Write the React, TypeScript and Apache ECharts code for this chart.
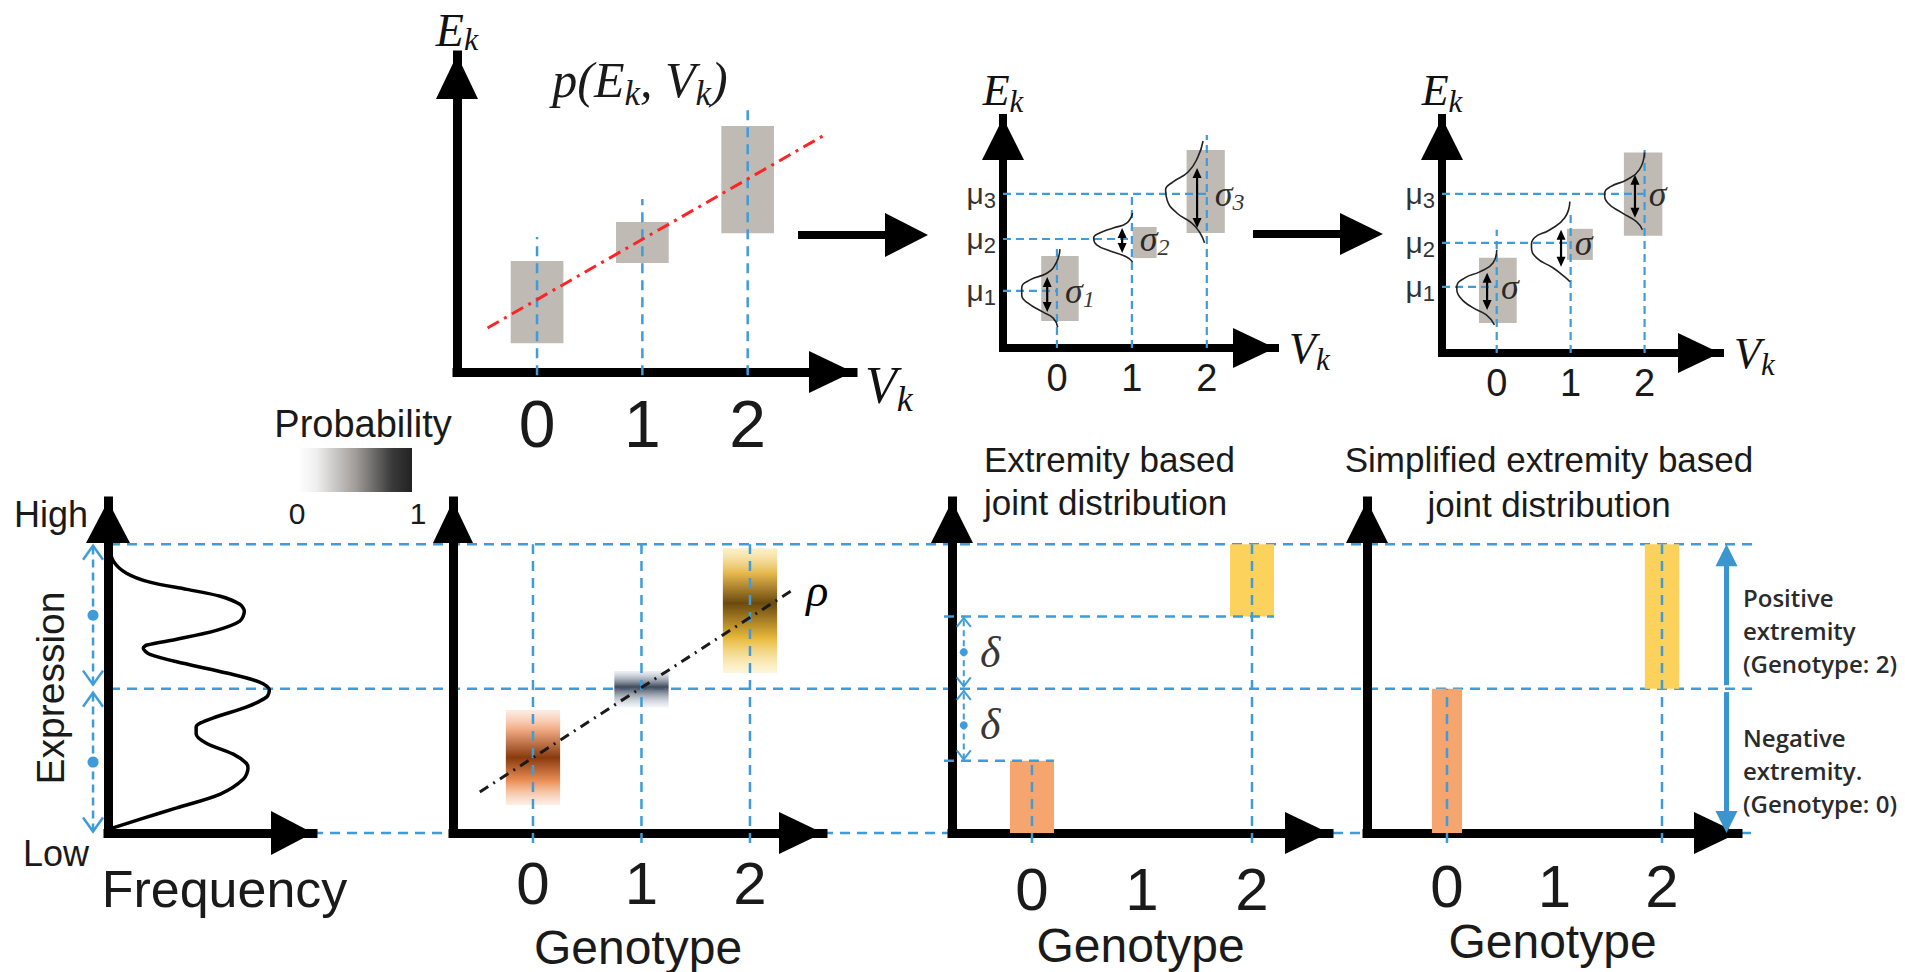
import React, { useEffect, useRef } from 'react';
import * as echarts from 'echarts';

// ================= DATA =================
const genotypes = [0, 1, 2];
const genotypeLabels = ['0', '1', '2'];

// Panel A – joint distribution p(E_k, V_k)
const aBoxLow = [0.91, 3.44, 4.38];
const aBoxHigh = [3.5, 4.73, 7.76];
const aGuideTop = [4.26, 5.46, 8.45];
const aTrend = [[-0.47, 1.39], [2.71, 7.44]];

// Panel B – one Gaussian per genotype, own sigma
const bMu = [2.48, 4.74, 6.7];
const bBoxLow = [1.17, 3.91, 5.0];
const bBoxHigh = [4.0, 5.26, 8.61];
const bGuideTop = [4.39, 6.7, 9.26];
const bSigmaLow = [1.57, 4.13, 5.22];
const bSigmaHigh = [3.09, 5.22, 7.83];
const bSigmaNames = ['1', '2', '3'];
const bCurve0 = [[0.04, 4.3], [-0.01, 3.7], [-0.13, 3.26], [-0.36, 2.96], [-0.47, 2.61], [-0.47, 2.3], [-0.39, 1.96], [-0.19, 1.57], [-0.05, 1.3], [0.01, 0.91]];
const bCurve1 = [[1.01, 5.87], [0.93, 5.43], [0.75, 5.22], [0.57, 5.0], [0.49, 4.78], [0.53, 4.48], [0.71, 4.22], [0.93, 3.96], [1.01, 3.74]];
const bCurve2 = [[1.95, 9.0], [1.88, 8.3], [1.75, 7.65], [1.55, 7.22], [1.45, 6.87], [1.47, 6.43], [1.6, 5.87], [1.8, 5.43], [1.91, 5.0], [1.97, 4.57]];

// Panel C – Gaussians with a shared sigma
const cMu = [2.87, 4.78, 6.91];
const cBoxLow = [1.3, 4.04, 5.09];
const cBoxHigh = [4.13, 5.39, 8.7];
const cGuideTop = [5.35, 6.09, 8.83];
const cSigmaLow = [1.87, 3.74, 5.87];
const cSigmaHigh = [3.48, 5.35, 7.74];
const cCurve0 = [[0, 4.48], [-0.05, 3.91], [-0.23, 3.52], [-0.43, 3.26], [-0.54, 2.87], [-0.5, 2.43], [-0.34, 2.0], [-0.14, 1.65], [-0.03, 1.22]];
const cCurve1 = [[0.99, 6.57], [0.92, 5.87], [0.72, 5.35], [0.51, 5.0], [0.47, 4.61], [0.54, 4.13], [0.76, 3.7], [0.92, 3.3], [0.99, 3.09]];
const cCurve2 = [[2.0, 8.7], [1.93, 7.96], [1.76, 7.52], [1.54, 7.22], [1.46, 6.91], [1.5, 6.52], [1.69, 6.09], [1.89, 5.7], [1.97, 5.35]];

// Panel D – expression frequency (trimodal), [frequency, expression]
const dDensity = [[0, 10.0], [0.27, 9.41], [0.9, 9.0], [2.04, 8.69], [3.85, 8.44], [5.48, 8.2], [6.43, 7.92], [6.65, 7.68], [6.43, 7.34], [5.29, 7.02], [3.35, 6.71], [1.9, 6.51], [1.72, 6.4], [2.04, 6.19], [3.67, 5.88], [5.79, 5.54], [7.42, 5.22], [7.87, 4.95], [7.74, 4.71], [6.74, 4.36], [5.11, 3.98], [4.3, 3.67], [4.3, 3.43], [4.8, 3.11], [6.11, 2.73], [6.74, 2.42], [6.83, 2.25], [6.61, 1.87], [5.48, 1.35], [3.35, 0.87], [1.58, 0.48], [0.09, 0.14]];

// Expression levels
const exprLow = 0;
const exprMid = 5;
const exprHigh = 10;
const delta = 2.5;
const negGenotype = 0;
const posGenotype = 2;

// Panel E – probability boxes per genotype
const eBoxLow = [0.97, 4.36, 5.54];
const eBoxHigh = [4.26, 5.61, 9.86];
const eTrend = [[-0.49, 1.42], [2.39, 8.41]];

// ================= STYLE =================
const SANS = '"Liberation Sans", Arial, Helvetica, sans-serif';
const SERIF = '"Liberation Serif", "Times New Roman", serif';
const CALI = '"Open Sans", "Noto Sans", sans-serif';
const TXT = '#1a1a1a';
const BLUE = '#3f9cd8';
const BLUE_S = '#3b95cf';
const GRAY = '#bfbab4';
const RED = '#ff2424';
const ORANGE = '#f6a56e';
const GOLD = '#fcd25c';
const DASH = [10, 7];

const bBoxSpan = [[-0.21, 0.29], [0.01, 0.33], [-0.27, 0.24]];
const cBoxSpan = [[-0.24, 0.27], [-0.05, 0.3], [-0.28, 0.24]];

function subRich(size: number, fam: string, italic: boolean, color = TXT, scale = 0.68, drop = 0.42) {
  const st = italic ? 'italic' : 'normal';
  return {
    m: { fontSize: size, fontFamily: fam, fontStyle: st, color, lineHeight: size, verticalAlign: 'top' },
    s: {
      fontSize: Math.round(size * scale), fontFamily: fam, fontStyle: st, color,
      lineHeight: Math.round(size * scale), verticalAlign: 'top', padding: [Math.round(size * drop), 0, 0, 0],
    },
  };
}

function axisLineCfg(width: number, arrow: number[]) {
  return {
    show: true, onZero: false, symbol: ['none', 'triangle'], symbolSize: arrow,
    symbolOffset: [0, -arrow[1] / 2], lineStyle: { color: '#000', width, cap: 'square' },
  };
}
function axisCfg(grid: number, min: number, max: number, width: number, arrow: number[], extra: any = {}) {
  return {
    type: 'value', gridIndex: grid, min, max, z: 2,
    axisLine: axisLineCfg(width, arrow), axisTick: { show: false }, splitLine: { show: false },
    axisLabel: { show: false }, ...extra,
  };
}
const tickLabels = (size: number, margin: number) => ({
  show: true, customValues: genotypes, margin, fontSize: size, fontFamily: SANS, color: TXT,
  formatter: (v: number) => genotypeLabels[genotypes.indexOf(Math.round(v))] ?? '',
});
const muLabels = (mus: number[]) => ({
  show: true, customValues: mus, margin: 7,
  formatter: (v: number) => {
    const i = mus.findIndex((m) => Math.abs(m - v) < 1e-6);
    return `{m|μ}{s|${i + 1}}`;
  },
  rich: subRich(30, SANS, false, '#333', 0.72, 0.36),
});

function seg(grid: number, data: number[][], color: string, width: number, dash: number[] | null, z = 4) {
  return {
    type: 'custom', xAxisIndex: grid, yAxisIndex: grid, z, silent: true, clip: false, data,
    renderItem: (_p: any, api: any) => {
      const a = api.coord([api.value(0), api.value(1)]);
      const b = api.coord([api.value(2), api.value(3)]);
      return {
        type: 'line', shape: { x1: a[0], y1: a[1], x2: b[0], y2: b[1] },
        style: { stroke: color, lineWidth: width, lineDash: dash || undefined, fill: 'none' },
      };
    },
  };
}
function rects(grid: number, data: number[][], fills: any[], z = 3) {
  return {
    type: 'custom', xAxisIndex: grid, yAxisIndex: grid, z, silent: true, clip: false, data,
    renderItem: (p: any, api: any) => {
      const a = api.coord([api.value(0), api.value(3)]);
      const b = api.coord([api.value(1), api.value(2)]);
      return {
        type: 'rect', shape: { x: a[0], y: a[1], width: b[0] - a[0], height: b[1] - a[1] },
        style: { fill: fills[p.dataIndex % fills.length] },
      };
    },
  };
}
function arrows(grid: number, data: number[][], o: any, z = 5) {
  return {
    type: 'custom', xAxisIndex: grid, yAxisIndex: grid, z, silent: true, clip: false, data,
    renderItem: (_p: any, api: any) => {
      const x = api.value(0);
      const a = api.coord([x, api.value(1)]);
      const b = api.coord([x, api.value(2)]);
      const d = b[1] > a[1] ? 1 : -1;
      const la = o.start && !o.open ? o.hl * 0.8 : 0;
      const lb = o.end && !o.open ? o.hl * 0.8 : 0;
      const kids: any[] = [{
        type: 'line', shape: { x1: a[0], y1: a[1] + d * la, x2: b[0], y2: b[1] - d * lb },
        style: { stroke: o.color, lineWidth: o.width, lineDash: o.dash || undefined },
      }];
      const head = (p: number[], s: number) => {
        const pts = [[p[0] - o.hw, p[1] - s * o.hl], [p[0], p[1]], [p[0] + o.hw, p[1] - s * o.hl]];
        return o.open
          ? { type: 'polyline', shape: { points: pts }, style: { stroke: o.color, lineWidth: o.width, fill: 'none' } }
          : { type: 'polygon', shape: { points: pts }, style: { fill: o.color } };
      };
      if (o.start) kids.push(head(a, -d));
      if (o.end) kids.push(head(b, d));
      if (o.dot) kids.push({ type: 'circle', shape: { cx: (a[0] + b[0]) / 2, cy: (a[1] + b[1]) / 2, r: o.dot }, style: { fill: o.color } });
      return { type: 'group', children: kids };
    },
  };
}
function lineS(grid: number, data: number[][], color: string, width: number, type: any = 'solid', smooth: any = false, z = 4) {
  return {
    type: 'line', xAxisIndex: grid, yAxisIndex: grid, data, smooth, showSymbol: false, symbol: 'none',
    lineStyle: { color, width, type }, z, silent: true,
  };
}
function labelS(grid: number, data: any[], style: any, position = 'right', z = 6) {
  return {
    type: 'scatter', xAxisIndex: grid, yAxisIndex: grid, z, silent: true, symbolSize: 1,
    itemStyle: { color: 'rgba(0,0,0,0)' }, data,
    label: { show: true, position, distance: 0, formatter: '{b}', ...style },
  };
}
function txt(x: number, y: number, text: string, size: number, extra: any = {}) {
  return {
    type: 'text', x, y, z: 10, silent: true,
    style: { text, fontSize: size, fontFamily: SANS, fill: TXT, align: 'center', verticalAlign: 'middle', ...extra },
  };
}

function buildOption() {
  const grids = [
    { left: 457, top: 55, width: 396, height: 317 },
    { left: 1003, top: 118, width: 272, height: 230 },
    { left: 1442, top: 118, width: 278, height: 235 },
    { left: 108, top: 501, width: 205, height: 332 },
    { left: 453, top: 501, width: 370, height: 332 },
    { left: 952, top: 501, width: 377, height: 332 },
    { left: 1367, top: 501, width: 371, height: 332 },
    { left: 0, top: 501, width: 1905, height: 332 },
  ];
  const Ek = (size: number, drop = 0.42, extra: any = {}) => ({ rich: subRich(size, SERIF, true, '#111', 0.7, drop), ...extra });
  const xAxis = [
    axisCfg(0, -0.76, 3.0, 9, [42, 44], { axisLabel: tickLabels(66, 19), name: '{m|V}{s|k}', nameLocation: 'end', nameGap: 12, nameTextStyle: Ek(52, 0.42, { padding: [26, 0, 0, 0] }) }),
    axisCfg(1, -0.72, 2.91, 8, [40, 42], { axisLabel: tickLabels(38, 11), name: '{m|V}{s|k}', nameLocation: 'end', nameGap: 14, nameTextStyle: Ek(44) }),
    axisCfg(2, -0.74, 3.02, 8, [40, 42], { axisLabel: tickLabels(38, 11), name: '{m|V}{s|k}', nameLocation: 'end', nameGap: 14, nameTextStyle: Ek(44) }),
    axisCfg(3, 0, 10, 9, [44, 42], { name: 'Frequency', nameLocation: 'middle', nameGap: 30, nameTextStyle: { fontSize: 52, fontFamily: SANS, color: TXT, padding: [0, 0, 0, 28] } }),
    axisCfg(4, -0.737, 2.673, 9, [42, 44], { axisLabel: tickLabels(60, 20), name: 'Genotype', nameLocation: 'middle', nameGap: 90, nameTextStyle: { fontSize: 48, fontFamily: SANS, color: TXT } }),
    axisCfg(5, -0.727, 2.7, 9, [42, 44], { axisLabel: tickLabels(60, 26), name: 'Genotype', nameLocation: 'middle', nameGap: 88, nameTextStyle: { fontSize: 48, fontFamily: SANS, color: TXT } }),
    axisCfg(6, -0.744, 2.707, 9, [42, 44], { axisLabel: tickLabels(60, 23), name: 'Genotype', nameLocation: 'middle', nameGap: 84, nameTextStyle: { fontSize: 48, fontFamily: SANS, color: TXT } }),
    { type: 'value', gridIndex: 7, min: 0, max: 1905, show: false },
  ];
  const yAxis = [
    axisCfg(0, 0, 10, 9, [42, 44], { name: '{m|E}{s|k}', nameLocation: 'end', nameGap: 2, nameTextStyle: Ek(46, 0.34) }),
    axisCfg(1, 0, 10, 8, [42, 42], { axisLabel: muLabels(bMu), name: '{m|E}{s|k}', nameLocation: 'end', nameGap: 6, nameTextStyle: Ek(44) }),
    axisCfg(2, 0, 10.2, 8, [42, 42], { axisLabel: muLabels(cMu), name: '{m|E}{s|k}', nameLocation: 'end', nameGap: 6, nameTextStyle: Ek(44) }),
    axisCfg(3, 0, 11.5, 9, [44, 42]),
    axisCfg(4, 0, 11.5, 9, [40, 42]),
    axisCfg(5, 0, 11.5, 9, [42, 42]),
    axisCfg(6, 0, 11.5, 9, [42, 42]),
    { type: 'value', gridIndex: 7, min: 0, max: 11.5, show: false },
  ];

  const G = echarts.graphic.LinearGradient;
  const eFills = [
    new G(0, 0, 0, 1, [{ offset: 0, color: 'rgba(252,224,208,0.6)' }, { offset: 0.2, color: '#f3ad86' }, { offset: 0.5, color: '#8a3a0e' }, { offset: 0.75, color: '#ec9058' }, { offset: 1, color: 'rgba(248,200,170,0.3)' }]),
    new G(0, 0, 0, 1, [{ offset: 0, color: 'rgba(222,228,238,0.5)' }, { offset: 0.44, color: '#3f4a5c' }, { offset: 1, color: 'rgba(212,220,232,0.3)' }]),
    new G(0, 0, 0, 1, [{ offset: 0, color: 'rgba(250,232,170,0.6)' }, { offset: 0.2, color: '#e6b84e' }, { offset: 0.44, color: '#6b4a0e' }, { offset: 0.72, color: '#e8b83c' }, { offset: 1, color: 'rgba(250,226,140,0.3)' }]),
  ];

  const series: any[] = [];
  // ---- A
  series.push(rects(0, genotypes.map((g, i) => [g - 0.25, g + 0.25, aBoxLow[i], aBoxHigh[i]]), [GRAY]));
  series.push(seg(0, genotypes.map((g, i) => [g, -0.1, g, aGuideTop[i]]), BLUE, 2.5, DASH));
  series.push(lineS(0, aTrend, RED, 3, [13, 6, 3, 6], false, 5));
  // ---- B
  series.push(rects(1, genotypes.map((g, i) => [g + bBoxSpan[i][0], g + bBoxSpan[i][1], bBoxLow[i], bBoxHigh[i]]), [GRAY]));
  [bCurve0, bCurve1, bCurve2].forEach((c) => series.push(lineS(1, c, '#222', 1.6, 'solid', 0.5)));
  series.push(seg(1, [
    ...genotypes.map((g, i) => [g, 0, g, bGuideTop[i]]),
    ...genotypes.map((g, i) => [-0.72, bMu[i], g, bMu[i]]),
  ], BLUE, 2.2, [8, 5]));
  series.push(arrows(1, genotypes.map((g, i) => [g - 0.13, bSigmaLow[i], bSigmaHigh[i]]), { color: '#000', width: 2.2, hw: 4.5, hl: 10, start: true, end: true }));
  series.push(labelS(1, genotypes.map((g, i) => ({ value: [g + 0.1, bMu[i]], name: `{m|σ}{s|${bSigmaNames[i]}}` })), { rich: subRich(36, SERIF, true, '#000', 0.68, 0.38) }));
  // ---- C
  series.push(rects(2, genotypes.map((g, i) => [g + cBoxSpan[i][0], g + cBoxSpan[i][1], cBoxLow[i], cBoxHigh[i]]), [GRAY]));
  [cCurve0, cCurve1, cCurve2].forEach((c) => series.push(lineS(2, c, '#222', 1.6, 'solid', 0.5)));
  series.push(seg(2, [
    ...genotypes.map((g, i) => [g, 0, g, cGuideTop[i]]),
    ...genotypes.map((g, i) => [-0.74, cMu[i], g, cMu[i]]),
  ], BLUE, 2.2, [8, 5]));
  series.push(arrows(2, genotypes.map((g, i) => [g - 0.13, cSigmaLow[i], cSigmaHigh[i]]), { color: '#000', width: 2.2, hw: 4.5, hl: 10, start: true, end: true }));
  series.push(labelS(2, genotypes.map((g, i) => ({ value: [g + 0.05, cMu[i]], name: 'σ' })), { fontSize: 36, fontFamily: SERIF, fontStyle: 'italic', color: '#000' }));
  // ---- cross-panel guide lines
  series.push(seg(7, [[110, exprHigh, 1752, exprHigh], [110, exprMid, 1752, exprMid], [313, exprLow, 1752, exprLow]], BLUE, 2.5, DASH, 1));
  // ---- D
  series.push(lineS(3, dDensity, '#000', 3.5, 'solid', 0.3, 4));
  series.push(arrows(3, [[-0.73, exprMid + 0.14, exprHigh - 0.05], [-0.73, exprLow + 0.05, exprMid - 0.14]], { color: BLUE, width: 2.5, dash: [8, 5], open: true, hw: 10, hl: 14, start: true, end: true, dot: 5.5 }));
  // ---- E
  series.push(rects(4, genotypes.map((g, i) => [g - 0.25, g + 0.25, eBoxLow[i], eBoxHigh[i]]), eFills));
  series.push(seg(4, genotypes.map((g) => [g, -0.35, g, exprHigh]), BLUE, 2.5, DASH));
  series.push({
    ...lineS(4, eTrend, '#1a1a1a', 3, [10, 6, 2, 6], false, 5),
    endLabel: { show: true, formatter: 'ρ', fontSize: 46, fontFamily: SERIF, fontStyle: 'italic', color: '#000', distance: 14 },
  });
  // ---- F
  series.push(rects(5, [
    [negGenotype - 0.2, negGenotype + 0.2, exprLow, exprMid - delta],
    [posGenotype - 0.2, posGenotype + 0.2, exprMid + delta, exprHigh],
  ], [ORANGE, GOLD]));
  series.push(seg(5, [
    [negGenotype, -0.35, negGenotype, exprMid - delta],
    [posGenotype, -0.35, posGenotype, exprHigh],
    [-0.8, exprMid + delta, posGenotype + 0.2, exprMid + delta],
    [-0.8, exprMid - delta, negGenotype + 0.2, exprMid - delta],
  ], BLUE, 2.5, DASH));
  series.push(arrows(5, [[-0.62, exprMid + 0.08, exprMid + delta - 0.05], [-0.62, exprMid - delta + 0.05, exprMid - 0.08]], { color: BLUE, width: 2, dash: [6, 4], open: true, hw: 7, hl: 9, start: true, end: true, dot: 4 }));
  series.push(labelS(5, [
    { value: [-0.38, exprMid + delta / 2], name: 'δ' },
    { value: [-0.38, exprMid - delta / 2], name: 'δ' },
  ], { fontSize: 44, fontFamily: SERIF, fontStyle: 'italic', color: '#000' }, 'inside'));
  // ---- G
  series.push(rects(6, [
    [negGenotype - 0.14, negGenotype + 0.14, exprLow, exprMid],
    [posGenotype - 0.16, posGenotype + 0.16, exprMid, exprHigh],
  ], [ORANGE, GOLD]));
  series.push(seg(6, [
    [negGenotype, -0.35, negGenotype, exprMid],
    [posGenotype, -0.35, posGenotype, exprHigh],
  ], BLUE, 2.5, DASH));
  series.push(arrows(6, [[2.6, exprMid + 0.12, exprHigh], [2.6, exprMid - 0.12, exprLow]], { color: BLUE_S, width: 5, hw: 11, hl: 22, start: false, end: true }));

  const graphic: any[] = [
    { type: 'line', silent: true, shape: { x1: 798, y1: 235, x2: 890, y2: 235 }, style: { stroke: '#000', lineWidth: 8 } },
    { type: 'polygon', silent: true, shape: { points: [[885, 213], [928, 235], [885, 257]] }, style: { fill: '#000' } },
    { type: 'line', silent: true, shape: { x1: 1253, y1: 234, x2: 1345, y2: 234 }, style: { stroke: '#000', lineWidth: 8 } },
    { type: 'polygon', silent: true, shape: { points: [[1340, 213], [1383, 234], [1340, 255]] }, style: { fill: '#000' } },
    txt(640, 80, '{m|p(E}{s|k}{m|, V}{s|k}{m|)}', 50, { rich: subRich(50, SERIF, true, '#111', 0.7, 0.42) }),
    txt(363, 424, 'Probability', 38),
    {
      type: 'rect', silent: true, shape: { x: 300, y: 448, width: 112, height: 44 },
      style: { fill: new G(0, 0, 1, 0, [{ offset: 0, color: '#fdfdfd' }, { offset: 0.15, color: '#eeeeee' }, { offset: 0.5, color: '#a09c98' }, { offset: 0.82, color: '#3a3a3a' }, { offset: 1, color: '#222222' }]) },
    },
    txt(297, 513, '0', 30),
    txt(418, 513, '1', 30),
    txt(51, 514, 'High', 36),
    txt(56, 853, 'Low', 36),
    { ...txt(50, 688, 'Expression', 39), rotation: Math.PI / 2 },
    txt(984, 481, 'Extremity based\njoint distribution', 35, { align: 'left', lineHeight: 43 }),
    txt(1549, 482, 'Simplified extremity based\njoint distribution', 35, { lineHeight: 45 }),
    txt(1743, 630, 'Positive\nextremity\n(Genotype: 2)', 24, { align: 'left', lineHeight: 33, fontFamily: CALI, fontWeight: 600, fill: '#2b2b2b' }),
    txt(1743, 770, 'Negative\nextremity.\n(Genotype: 0)', 24, { align: 'left', lineHeight: 33, fontFamily: CALI, fontWeight: 600, fill: '#2b2b2b' }),
  ];

  return { animation: false, backgroundColor: '#ffffff', grid: grids, xAxis, yAxis, series, graphic };
}

export default function App() {
  const ref = useRef<HTMLDivElement>(null);
  useEffect(() => {
    document.body.style.margin = '0';
    const chart = echarts.init(ref.current as HTMLDivElement, null, { renderer: 'svg' });
    chart.setOption(buildOption() as any);
    return () => chart.dispose();
  }, []);
  return <div ref={ref} style={{ width: 1905, height: 972, background: '#fff' }} />;
}
